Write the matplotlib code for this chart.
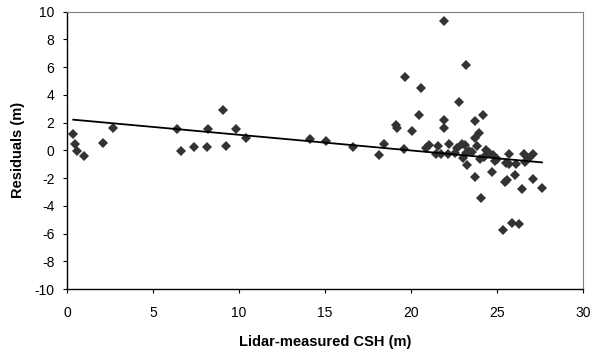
import numpy as np
import matplotlib
matplotlib.use('Agg')
from matplotlib import pyplot as plt

# 잔차 데이터
csh = [0.37, 0.46, 0.56, 0.99, 2.07, 2.67, 6.41, 6.66, 7.38, 8.14, 8.20, 9.09, 9.24, 9.80, 10.42,
       14.13, 15.06, 16.64, 18.14, 18.41, 19.10, 19.16, 19.58, 19.66, 20.05, 20.47, 20.55,
       20.89, 21.03, 21.43, 21.59, 21.74, 21.90, 21.93, 21.93, 22.12, 22.20, 22.55, 22.66,
       22.80, 22.95, 23.03, 23.13, 23.18, 23.22, 23.28, 23.36, 23.55, 23.69, 23.70, 23.72,
       23.86, 23.95, 24.03, 24.09, 24.20, 24.22, 24.38, 24.51, 24.69, 24.74, 24.90, 25.01,
       25.34, 25.44, 25.51, 25.59, 25.67, 25.71, 25.84, 26.03, 26.11, 26.25, 26.46, 26.55,
       26.65, 26.86, 27.07, 27.07, 27.61]
resid = [1.20, 0.46, -0.02, -0.43, 0.56, 1.59, 1.52, -0.04, 0.22, 0.27, 1.56, 2.93, 0.34, 1.56, 0.89,
         0.85, 0.64, 0.25, -0.37, 0.47, 1.81, 1.64, 0.13, 5.29, 1.40, 2.56, 4.48,
         0.16, 0.40, -0.25, 0.28, -0.25, 1.60, 9.33, 2.20, -0.25, 0.47, -0.20, 0.20,
         3.45, 0.49, -0.56, 0.35, 6.13, -0.16, -1.04, -0.08, -0.13, 2.12, 0.88, -1.93,
         0.28, 1.24, -0.64, -3.45, 2.56, -0.49, -0.01, -0.18, -1.57, -0.35, -0.80, -0.64,
         -5.77, -2.27, -0.92, -2.12, -0.28, -1.00, -5.25, -1.76, -1.00, -5.34, -2.77, -0.25,
         -0.83, -0.52, -0.30, -2.05, -2.68]

# 추세선 계수 (기울기, 절편)
trend_slope = -0.113
trend_intercept = 2.25

plt.rcParams['font.family'] = ['Liberation Sans', 'DejaVu Sans']
plt.rcParams['axes.unicode_minus'] = False

fig = plt.figure(figsize=(5.92, 3.5), dpi=100)
ax = fig.add_axes([0.113, 0.174, 0.872, 0.793])

ax.plot(csh, resid, linestyle='none', marker='D', markersize=5,
        color='#333333', markeredgewidth=0)

xs = np.array([min(csh), max(csh)])
ax.plot(xs, trend_slope * xs + trend_intercept, color='black', linewidth=1.3)

ax.set_xlim(0, 30)
ax.set_ylim(-10, 10)
ax.set_xticks(range(0, 31, 5))
ax.set_yticks(range(-10, 11, 2))
ax.tick_params(direction='out', length=3, width=0.8, labelsize=10)
ax.tick_params(axis='x', pad=9)
ax.tick_params(axis='y', pad=6)
ax.set_xlabel('Lidar-measured CSH (m)', fontsize=10.5, fontweight='bold', labelpad=11)
ax.set_ylabel('Residuals (m)', fontsize=10.5, fontweight='bold', labelpad=7)

for side in ['left', 'bottom']:
    ax.spines[side].set_linewidth(1.0)
for side in ['top', 'right']:
    ax.spines[side].set_linewidth(0.8)
    ax.spines[side].set_color('#808080')

plt.savefig('out.png', dpi=100)
